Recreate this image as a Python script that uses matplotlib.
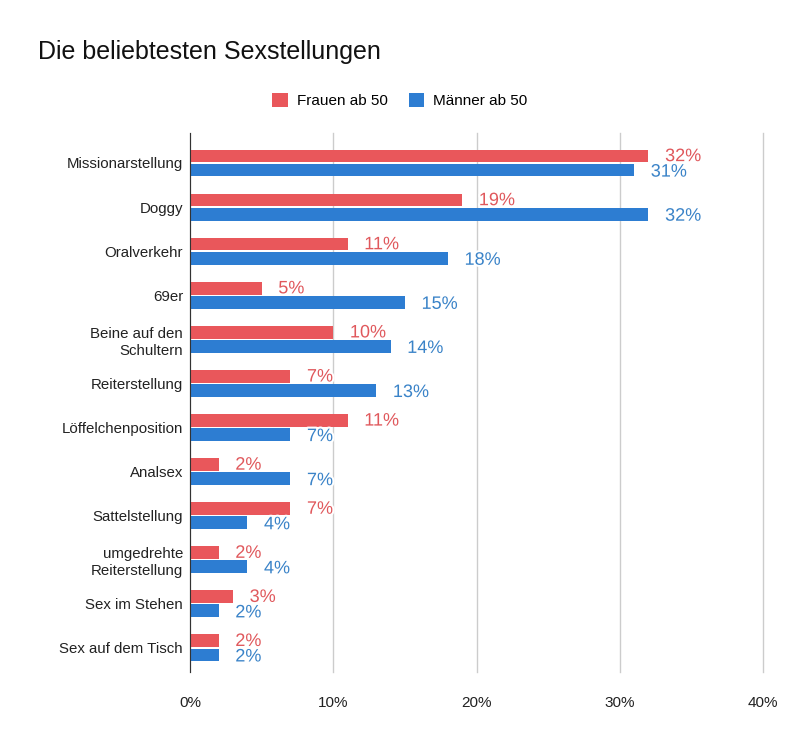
import matplotlib.pyplot as plt
import matplotlib.patheffects as pe
import numpy as np

plt.rcParams["font.family"] = ["Liberation Sans", "DejaVu Sans"]

positions = [
    "Missionarstellung",
    "Doggy",
    "Oralverkehr",
    "69er",
    "Beine auf den\nSchultern",
    "Reiterstellung",
    "Löffelchenposition",
    "Analsex",
    "Sattelstellung",
    "umgedrehte\nReiterstellung",
    "Sex im Stehen",
    "Sex auf dem Tisch",
]
frauen = [32, 19, 11, 5, 10, 7, 11, 2, 7, 2, 3, 2]
maenner = [31, 32, 18, 15, 14, 13, 7, 7, 4, 4, 2, 2]
series_names = ["Frauen ab 50", "Männer ab 50"]
x_ticks = [0, 10, 20, 30, 40]

red = "#E9575B"
blue = "#2D7DD2"
red_txt = "#E0585C"
blue_txt = "#3A83C8"

fig = plt.figure(figsize=(8, 7.41), dpi=100)
ax = fig.add_axes([0.2375, 0.093, 0.7163, 0.7275])

y = np.arange(len(positions))
h = 0.29
off = 0.16
ax.barh(y - off, frauen, height=h, color=red, label=series_names[0], zorder=3)
ax.barh(y + off, maenner, height=h, color=blue, label=series_names[1], zorder=3)

# value labels with a white halo, like the original
halo = [pe.withStroke(linewidth=3, foreground="white")]
for yi, v in zip(y - off, frauen):
    ax.annotate(f"{v}%", (v, yi), xytext=(12, -0.5), textcoords="offset points",
                va="center", ha="left", fontsize=13, color=red_txt,
                path_effects=halo, zorder=4)
for yi, v in zip(y + off, maenner):
    ax.annotate(f"{v}%", (v, yi), xytext=(12, -1.5), textcoords="offset points",
                va="center", ha="left", fontsize=13, color=blue_txt,
                path_effects=halo, zorder=4)

ax.set_xlim(0, 40)
ax.set_ylim(11.55, -0.68)
ax.set_xticks(x_ticks)
ax.set_xticklabels([f"{t}%" for t in x_ticks], fontsize=11, color="#222222")
ax.set_yticks(y)
ax.set_yticklabels(positions, fontsize=10.8, color="#222222", linespacing=1.25)
ax.tick_params(length=0, pad=5)
ax.tick_params(axis="x", pad=17)
ax.grid(axis="x", color="#cccccc", linewidth=1, zorder=0)
for gl in ax.get_xgridlines():
    gl.set_clip_on(False)
for s in ["top", "right", "bottom"]:
    ax.spines[s].set_visible(False)
ax.spines["left"].set_color("#333333")
ax.spines["left"].set_zorder(5)

fig.text(0.047, 0.93, "Die beliebtesten Sexstellungen", fontsize=18,
         color="#111111", va="center")
fig.legend(loc="center", bbox_to_anchor=(0.5, 0.864), ncol=2, frameon=False,
           fontsize=11, handlelength=1.0, handleheight=1.0, columnspacing=1.4,
           handletextpad=0.6)

fig.savefig("out.png", dpi=100, facecolor="white")
